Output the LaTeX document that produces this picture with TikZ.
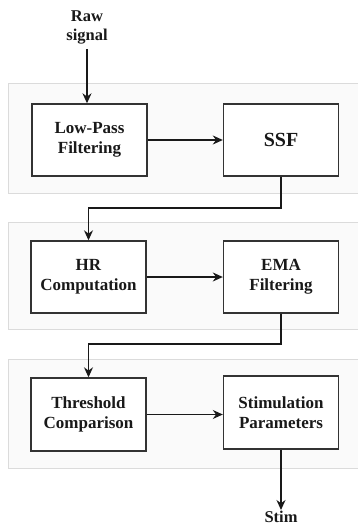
\documentclass[tikz,border=0pt]{standalone}
\usepackage{fontspec}
\setmainfont{Liberation Serif}
\usetikzlibrary{arrows.meta}
\begin{document}
\begin{tikzpicture}[x=1pt,y=-1pt,
  panel/.style={draw=black!14,fill=black!2,line width=0.9pt},
  blk/.style={draw=black!80,line width=1.4pt,fill=white,minimum width=115pt,minimum height=72pt,align=center,font=\fontsize{17}{20}\selectfont\bfseries,text=black!90,inner sep=2pt},
  lbl/.style={align=center,font=\fontsize{16.5}{19}\selectfont\bfseries,text=black!90,inner sep=1pt},
  arr/.style={draw=black!90,line width=1.2pt,-{Stealth[length=10pt,width=9pt]}}
]
\useasboundingbox (0,0) rectangle (358,525);
\fill[white] (0,0) rectangle (358,525);
% panels
\draw[panel] (8,83) rectangle (362,193);
\draw[panel] (8,222) rectangle (362,329);
\draw[panel] (8,359) rectangle (362,468);
% nodes
\node[lbl] (raw) at (87,27) {Raw\\signal};
\node[blk] (lpf) at (89.5,140) {Low-Pass\\Filtering};
\node[blk,font=\fontsize{20}{24}\selectfont\bfseries] (ssf) at (281,140) {SSF};
\node[blk] (hr) at (88.5,277) {HR\\Computation};
\node[blk] (ema) at (281,277) {EMA\\Filtering};
\node[blk,minimum height=73pt] (thr) at (88.5,414.5) {Threshold\\Comparison};
\node[blk,minimum height=73pt] (stp) at (281,412.5) {Stimulation\\Parameters};
\node[lbl] (stim) at (281,517) {Stim};
\coordinate (b1) at (282,208);
\coordinate (b2) at (283,344);
% connectors
\draw[arr] (raw.south -| lpf.north) ++(-2.5,4) -- ([xshift=-2.5pt]lpf.north);
\draw[arr] (lpf) -- (ssf);
\draw[arr] (ssf.south) -- (ssf.south |- b1) -| (hr.north);
\draw[arr] (hr) -- (ema);
\draw[arr] (ema.south) -- (ema.south |- b2) -| (thr.north);
\draw[arr] (thr.east) -- (thr.east -| stp.west);
\draw[arr] (stp.south) -- (stim.north);
\end{tikzpicture}
\end{document}
